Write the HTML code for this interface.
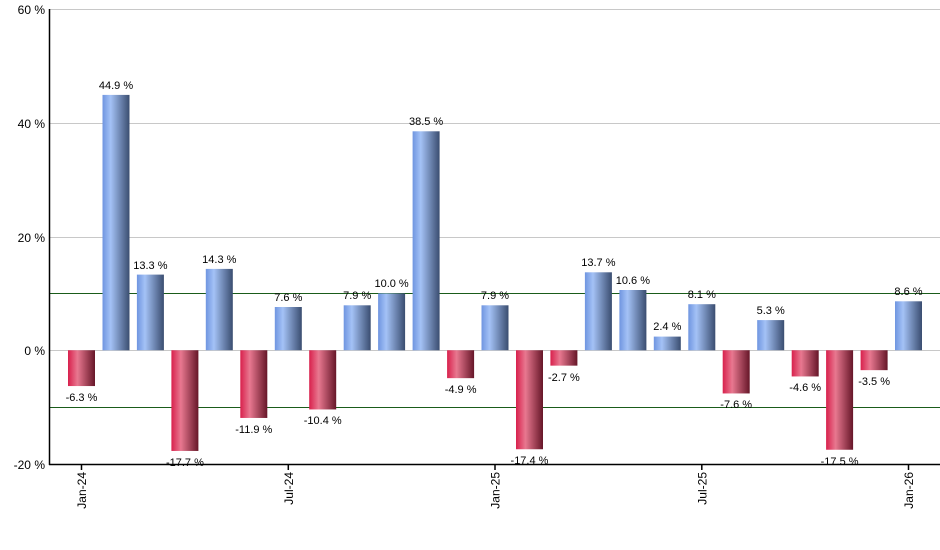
<!DOCTYPE html>
<html><head><meta charset="utf-8"><style>body{margin:0;background:#fff}svg{display:block;font-family:"Liberation Sans",sans-serif;font-size:11px}</style></head><body>
<svg width="940" height="550" xmlns="http://www.w3.org/2000/svg">
<defs>
<linearGradient id="b" x1="0" x2="1" y1="0" y2="0"><stop offset="0" stop-color="#6f95e0"/><stop offset="0.3" stop-color="#a4c2f6"/><stop offset="1" stop-color="#3a4d70"/></linearGradient>
<linearGradient id="r" x1="0" x2="1" y1="0" y2="0"><stop offset="0" stop-color="#d8204c"/><stop offset="0.35" stop-color="#e87890"/><stop offset="1" stop-color="#661628"/></linearGradient>
</defs>
<g stroke="#c8c8c8" stroke-width="1">
<line x1="50" x2="940" y1="9.5" y2="9.5"/><line x1="50" x2="940" y1="123.5" y2="123.5"/><line x1="50" x2="940" y1="237.5" y2="237.5"/><line x1="50" x2="940" y1="350.5" y2="350.5"/>
</g>
<line x1="50" x2="940" y1="293.5" y2="293.5" stroke="#1a5c1a"/>
<line x1="50" x2="940" y1="407.5" y2="407.5" stroke="#1a5c1a"/>
<g text-anchor="end" fill="#000" font-size="12">
<text x="45" y="14">60 %</text><text x="45" y="128">40 %</text><text x="45" y="242">20 %</text><text x="45" y="355">0 %</text><text x="45" y="469">-20 %</text>
</g>
<g>
<rect x="68" y="350.25" width="27" height="35.8" fill="url(#r)"/>
<rect x="102.5" y="94.9" width="27" height="255.4" fill="url(#b)"/>
<rect x="136.9" y="274.6" width="27" height="75.6" fill="url(#b)"/>
<rect x="171.4" y="350.25" width="27" height="100.7" fill="url(#r)"/>
<rect x="205.8" y="268.9" width="27" height="81.3" fill="url(#b)"/>
<rect x="240.3" y="350.25" width="27" height="67.7" fill="url(#r)"/>
<rect x="274.8" y="307" width="27" height="43.2" fill="url(#b)"/>
<rect x="309.2" y="350.25" width="27" height="59.2" fill="url(#r)"/>
<rect x="343.7" y="305.3" width="27" height="44.9" fill="url(#b)"/>
<rect x="378.1" y="293.4" width="27" height="56.9" fill="url(#b)"/>
<rect x="412.6" y="131.3" width="27" height="219" fill="url(#b)"/>
<rect x="447.1" y="350.25" width="27" height="27.9" fill="url(#r)"/>
<rect x="481.5" y="305.3" width="27" height="44.9" fill="url(#b)"/>
<rect x="516" y="350.25" width="27" height="99" fill="url(#r)"/>
<rect x="550.4" y="350.25" width="27" height="15.4" fill="url(#r)"/>
<rect x="584.9" y="272.3" width="27" height="77.9" fill="url(#b)"/>
<rect x="619.4" y="290" width="27" height="60.3" fill="url(#b)"/>
<rect x="653.8" y="336.6" width="27" height="13.7" fill="url(#b)"/>
<rect x="688.3" y="304.2" width="27" height="46.1" fill="url(#b)"/>
<rect x="722.7" y="350.25" width="27" height="43.2" fill="url(#r)"/>
<rect x="757.2" y="320.1" width="27" height="30.1" fill="url(#b)"/>
<rect x="791.7" y="350.25" width="27" height="26.2" fill="url(#r)"/>
<rect x="826.1" y="350.25" width="27" height="99.5" fill="url(#r)"/>
<rect x="860.6" y="350.25" width="27" height="19.9" fill="url(#r)"/>
<rect x="895" y="301.3" width="27" height="48.9" fill="url(#b)"/>
</g>
<g text-anchor="middle" fill="#000">
<text x="81.5" y="401">-6.3 %</text>
<text x="116" y="89">44.9 %</text>
<text x="150.4" y="269">13.3 %</text>
<text x="184.9" y="466">-17.7 %</text>
<text x="219.3" y="263">14.3 %</text>
<text x="253.8" y="433">-11.9 %</text>
<text x="288.3" y="301">7.6 %</text>
<text x="322.7" y="424">-10.4 %</text>
<text x="357.2" y="299">7.9 %</text>
<text x="391.6" y="287">10.0 %</text>
<text x="426.1" y="125">38.5 %</text>
<text x="460.6" y="393">-4.9 %</text>
<text x="495" y="299">7.9 %</text>
<text x="529.5" y="464">-17.4 %</text>
<text x="563.9" y="381">-2.7 %</text>
<text x="598.4" y="266">13.7 %</text>
<text x="632.9" y="284">10.6 %</text>
<text x="667.3" y="330">2.4 %</text>
<text x="701.8" y="298">8.1 %</text>
<text x="736.2" y="408">-7.6 %</text>
<text x="770.7" y="314">5.3 %</text>
<text x="805.2" y="391">-4.6 %</text>
<text x="839.6" y="465">-17.5 %</text>
<text x="874.1" y="385">-3.5 %</text>
<text x="908.5" y="295">8.6 %</text>
</g>
<g stroke="#000" stroke-width="1.5">
<line x1="49.5" x2="49.5" y1="9" y2="465"/>
<line x1="49" x2="940" y1="464.5" y2="464.5"/>
<line x1="81.5" x2="81.5" y1="464" y2="470"/><line x1="288.3" x2="288.3" y1="464" y2="470"/><line x1="495" x2="495" y1="464" y2="470"/><line x1="701.8" x2="701.8" y1="464" y2="470"/><line x1="908.5" x2="908.5" y1="464" y2="470"/>
</g>
<g text-anchor="end" fill="#000" font-size="12">
<text transform="translate(86,472) rotate(-90)">Jan-24</text>
<text transform="translate(292.8,472) rotate(-90)">Jul-24</text>
<text transform="translate(499.5,472) rotate(-90)">Jan-25</text>
<text transform="translate(706.3,472) rotate(-90)">Jul-25</text>
<text transform="translate(913,472) rotate(-90)">Jan-26</text>
</g>
</svg>
</body></html>
